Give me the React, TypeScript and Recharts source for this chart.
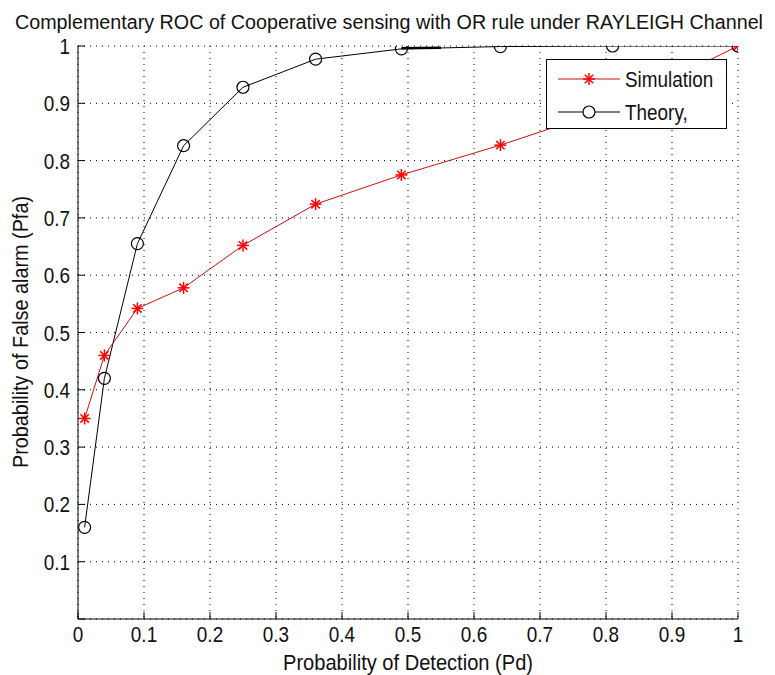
import { CartesianGrid, Line, LineChart, XAxis, YAxis } from 'recharts'

// Pd sample points (squares of 0.1 .. 1)
const pd = [0.01, 0.04, 0.09, 0.16, 0.25, 0.36, 0.49, 0.64, 0.81, 1]
const simPfa = [0.35, 0.46, 0.542, 0.578, 0.652, 0.724, 0.775, 0.827, 0.892, 1]
const theoryPfa = [0.16, 0.42, 0.655, 0.826, 0.928, 0.977, 0.995, 0.999, 1, 1]
// short thick stub drawn near the top in the original figure
const stubPd = [0.49, 0.55]
const stubPfa = [0.996, 0.997]

const ticks = [0, 0.1, 0.2, 0.3, 0.4, 0.5, 0.6, 0.7, 0.8, 0.9, 1]

const title = 'Complementary ROC of Cooperative sensing with OR rule under RAYLEIGH Channel'
const xTitle = 'Probability of Detection (Pd)'
const yTitle = 'Probability of False alarm (Pfa)'
const simName = 'Simulation'
const theoryName = 'Theory,'

const font = "'Liberation Sans', Arial, sans-serif"
const RED = '#ff0000'
const SQUEEZE = 0.86

const simData = pd.map((x, i) => ({ x, y: simPfa[i] }))
const theoryData = pd.map((x, i) => ({ x, y: theoryPfa[i] }))
const stubData = stubPd.map((x, i) => ({ x, y: stubPfa[i] }))

const Star = ({ cx, cy, size = 6 }: { cx: number; cy: number; size?: number }) => {
  const d = size * 0.7
  return (
    <g stroke={RED} strokeWidth={1.5}>
      <line x1={cx - size} y1={cy} x2={cx + size} y2={cy} />
      <line x1={cx} y1={cy - size} x2={cx} y2={cy + size} />
      <line x1={cx - d} y1={cy - d} x2={cx + d} y2={cy + d} />
      <line x1={cx - d} y1={cy + d} x2={cx + d} y2={cy - d} />
    </g>
  )
}

// narrow-looking text: regular sans squeezed horizontally
const NText = ({ x, y, anchor = 'start', size = 22, sx = SQUEEZE, children }: any) => (
  <text
    transform={`translate(${x},${y}) scale(${sx},1)`}
    textAnchor={anchor} fontSize={size} fontFamily={font} fill="#111"
  >
    {children}
  </text>
)

const fmt = (v: number) => String(v)

export default function App() {
  return (
    <div style={{ position: 'relative', width: 775, height: 675, background: '#fff', fontFamily: font }}>
      <style>{'body{margin:0}'}</style>
      <LineChart width={775} height={675} margin={{ top: 46, right: 37, bottom: 0, left: 0 }}>
        <CartesianGrid stroke="#000" strokeDasharray="1 5" />
        <XAxis
          dataKey="x" type="number" domain={[0, 1]} ticks={ticks} height={56}
          tickSize={0} tickMargin={0} tickLine={false} axisLine={{ stroke: '#000' }}
          allowDataOverflow
          tick={(p: any) => (
            <g>
              <line x1={p.x} y1={p.y} x2={p.x} y2={p.y - 7} stroke="#000" />
              <NText x={p.x} y={p.y + 23} anchor="middle">{fmt(p.payload.value)}</NText>
            </g>
          )}
        />
        <XAxis
          xAxisId="top" orientation="top" dataKey="x" type="number" domain={[0, 1]} ticks={ticks} height={0}
          tickSize={0} tickMargin={0} tickLine={false} axisLine={{ stroke: '#000' }}
          tick={(p: any) => <line x1={p.x} y1={p.y} x2={p.x} y2={p.y + 7} stroke="#000" />}
        />
        <YAxis
          type="number" domain={[0, 1]} ticks={ticks} width={78}
          tickSize={0} tickMargin={0} tickLine={false} axisLine={{ stroke: '#000' }}
          allowDataOverflow
          tick={(p: any) => (
            <g>
              <line x1={p.x} y1={p.y} x2={p.x + 7} y2={p.y} stroke="#000" />
              {p.payload.value !== 0 && (
                <NText x={p.x - 8} y={p.y + 8} anchor="end">{fmt(p.payload.value)}</NText>
              )}
            </g>
          )}
        />
        <YAxis
          yAxisId="right" orientation="right" type="number" domain={[0, 1]} ticks={ticks} width={0}
          tickSize={0} tickMargin={0} tickLine={false} axisLine={{ stroke: '#000' }}
          tick={(p: any) => <line x1={p.x} y1={p.y} x2={p.x - 7} y2={p.y} stroke="#000" />}
        />
        <Line
          data={stubData} dataKey="y" stroke="#000" strokeWidth={2.5} dot={false}
          isAnimationActive={false} legendType="none"
        />
        <Line
          data={theoryData} dataKey="y" name={theoryName} stroke="#000" strokeWidth={1}
          dot={(p: any) => <circle key={p.index} cx={p.cx} cy={p.cy} r={6} fill="none" stroke="#000" strokeWidth={1.2} />}
          isAnimationActive={false}
        />
        <Line
          data={simData} dataKey="y" name={simName} stroke="#cc1010" strokeWidth={1}
          dot={(p: any) => <Star key={p.index} cx={p.cx} cy={p.cy} />}
          isAnimationActive={false}
        />
      </LineChart>
      <svg width={775} height={675} style={{ position: 'absolute', left: 0, top: 0, pointerEvents: 'none' }}>
        <text
          x={389} y={29} textAnchor="middle" fontSize={20} fontFamily={font} fill="#111"
          textLength={748} lengthAdjust="spacingAndGlyphs"
        >
          {title}
        </text>
        <text
          x={408} y={670} textAnchor="middle" fontSize={22} fontFamily={font} fill="#111"
          textLength={250} lengthAdjust="spacingAndGlyphs"
        >
          {xTitle}
        </text>
        <text
          transform="translate(28,332) rotate(-90)" textAnchor="middle" fontSize={22} fontFamily={font} fill="#111"
          textLength={272} lengthAdjust="spacingAndGlyphs"
        >
          {yTitle}
        </text>
      </svg>
      <div
        style={{
          position: 'absolute', left: 546, top: 59, width: 179, height: 68,
          border: '1px solid #000', background: '#fff',
        }}
      >
        <svg width={179} height={68} style={{ position: 'absolute', left: 0, top: 0 }}>
          <line x1={11} y1={19} x2={73} y2={19} stroke="#cc1010" />
          <Star cx={42} cy={19} />
          <NText x={78} y={27}>{simName}</NText>
          <line x1={11} y1={52} x2={73} y2={52} stroke="#000" />
          <circle cx={42} cy={52} r={6} fill="#fff" stroke="#000" strokeWidth={1.2} />
          <NText x={78} y={60}>{theoryName}</NText>
        </svg>
      </div>
    </div>
  )
}
